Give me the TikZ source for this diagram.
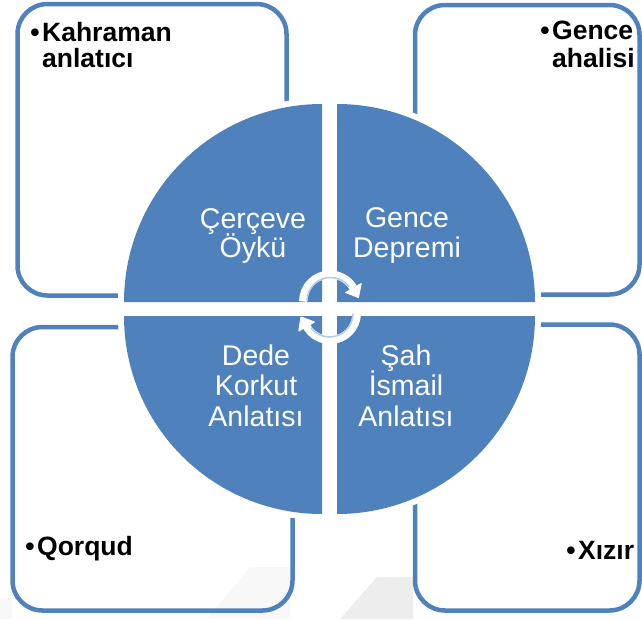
\documentclass[tikz,border=0pt]{standalone}
\usepackage{fontspec}
\setmainfont{Liberation Sans}

\definecolor{accent}{HTML}{4F81BD}
\definecolor{cyclelight}{HTML}{B9CDE5}
\definecolor{shadeA}{HTML}{EDEDED}
\definecolor{shadeB}{HTML}{F8F8F8}

\tikzset{
  panel/.style={draw=accent, line width=4.5pt, rounded corners=30pt},
  halo/.style={draw=white, line width=12pt},
  wedgefill/.style={fill=accent},
  wedgelabel/.style={text=white, inner sep=0pt, anchor=base,
    font=\fontsize{28.5}{30}\selectfont},
  itemlabel/.style={text=black, inner sep=0pt, anchor=base west,
    font=\bfseries\fontsize{26.5}{28}\selectfont},
  cyclearc/.style={draw=white, line width=8pt},
  cyclehead/.style={fill=white, draw=white, line width=1pt, line join=round},
  cycleline/.style={draw=cyclelight, line width=1.6pt},
}

\newcommand{\bul}{\llap{\textbullet\hspace{2.5pt}}}

\begin{document}
\begin{tikzpicture}[x=1pt,y=-1pt]
  \useasboundingbox (0,0) rectangle (642,619);

  % faint floor shading
  \fill[shadeB] (207,619) -- (250,567) -- (290,567) -- (290,619) -- cycle;
  \fill[shadeB] (0,598) -- (12,598) -- (12,619) -- (0,619) -- cycle;
  \fill[shadeA] (340,619) -- (377,577) -- (413,577) -- (413,619) -- cycle;

  % four outer panels
  \draw[panel] (17.5,4) rectangle (286.5,295.5);
  \draw[panel] (415,5) rectangle (639.5,294.5);
  \draw[panel] (12.5,327) rectangle (292.5,610.5);
  \draw[panel] (415,324.5) rectangle (639.5,610.5);

  % white halo around the four quarter discs
  \draw[halo] (322,302) -- (124,302) arc[start angle=180, end angle=270, radius=198] -- cycle;
  \draw[halo] (337,302) -- (337,104) arc[start angle=270, end angle=360, radius=198] -- cycle;
  \draw[halo] (337,316) -- (535,316) arc[start angle=0, end angle=90, radius=198] -- cycle;
  \draw[halo] (322,316) -- (322,514) arc[start angle=90, end angle=180, radius=198] -- cycle;

  % quarter discs
  \fill[wedgefill] (322,302) -- (124,302) arc[start angle=180, end angle=270, radius=198] -- cycle;
  \fill[wedgefill] (337,302) -- (337,104) arc[start angle=270, end angle=360, radius=198] -- cycle;
  \fill[wedgefill] (337,316) -- (535,316) arc[start angle=0, end angle=90, radius=198] -- cycle;
  \fill[wedgefill] (322,316) -- (322,514) arc[start angle=90, end angle=180, radius=198] -- cycle;

  % labels in the quarters
  \node[wedgelabel] (cerceve) at (253,228) {Çerçeve};
  \node[wedgelabel] (oyku)    at (253,257) {Öykü};
  \node[wedgelabel] (gence)   at (407,227) {Gence};
  \node[wedgelabel] (deprem)  at (407,257) {Depremi};
  \node[wedgelabel] (dede)    at (256,365) {Dede};
  \node[wedgelabel] (korkut)  at (256,395) {Korkut};
  \node[wedgelabel] (anlatA)  at (256,426) {Anlatısı};
  \node[wedgelabel] (sah)     at (406,365) {Şah};
  \node[wedgelabel] (ismail)  at (406,395) {İsmail};
  \node[wedgelabel] (anlatB)  at (406,426) {Anlatısı};

  % items in the panels
  \node[itemlabel] (kahraman) at (42,41.5) {\bul Kahraman};
  \node[itemlabel] (anlatici) at (42,67.5) {anlatıcı};
  \node[itemlabel] (genceA)   at (552,39)  {\bul Gence};
  \node[itemlabel] (ahali)    at (552,67)  {ahalisi};
  \node[itemlabel] (qorqud)   at (37,555)  {\bul Qorqud};
  \node[itemlabel] (xizir)    at (578,559) {\bul Xızır};

  % circular arrows at the centre: upper half turning right
  \draw[cyclearc] (303,301.5) arc[start angle=180, end angle=331, radius=27];
  \filldraw[cyclehead] (361.2,283.5) -- (358.4,297.5) -- (345.6,292.5) -- cycle;
  \draw[cycleline] (307,301) arc[start angle=180, end angle=322, radius=23.5];
  % lower half turning left
  \draw[cyclearc] (357,313) arc[start angle=0, end angle=151, radius=27];
  \filldraw[cyclehead] (298.8,331) -- (301,317) -- (314.4,322) -- cycle;
  \draw[cycleline] (353,313.5) arc[start angle=0, end angle=142, radius=23.5];
\end{tikzpicture}
\end{document}
